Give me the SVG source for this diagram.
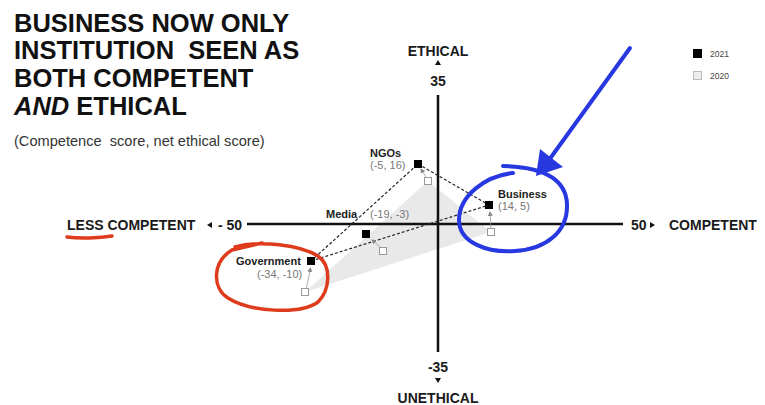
<svg xmlns="http://www.w3.org/2000/svg" width="765" height="405" viewBox="0 0 765 405">
<defs>
<style>
text{font-family:"Liberation Sans",Arial,sans-serif;}
.title{font-size:25.5px;font-weight:bold;fill:#111;}
.ax{font-size:14px;font-weight:bold;fill:#1a1a1a;}
.nl{font-size:11px;font-weight:bold;fill:#222;}
.nc{font-size:11px;fill:#777;}
.lg{font-size:8.5px;fill:#444;}
.axis{stroke:#111;stroke-width:2.5;fill:none;}
.dash{stroke:#222;stroke-width:1.2;stroke-dasharray:3 2;fill:none;}
.p21{fill:#000;}
.p20{fill:#fff;stroke:#999;stroke-width:1;}
.mv{stroke:#999;stroke-width:0.8;fill:none;marker-end:url(#ah);}
.blue{stroke:#2838e0;stroke-width:4;fill:none;stroke-linecap:round;}
.red{stroke:#dd3b1c;stroke-width:3.5;fill:none;stroke-linecap:round;}
</style>
<marker id="ah" markerWidth="5" markerHeight="5" refX="4" refY="2.5" orient="auto" markerUnits="userSpaceOnUse">
<path d="M0,0 L5,2.5 L0,5 Z" fill="#888"/>
</marker>
</defs>
<rect width="765" height="405" fill="#fff"/>

<g id="title">
<text class="title" x="14" y="32">BUSINESS NOW ONLY</text>
<text class="title" x="14" y="59" xml:space="preserve">INSTITUTION  SEEN AS</text>
<text class="title" x="14" y="87">BOTH COMPETENT</text>
<text class="title" x="14" y="115"><tspan font-style="italic">AND</tspan> ETHICAL</text>
<text x="14" y="146" font-size="14.6" fill="#333" xml:space="preserve">(Competence  score, net ethical score)</text>
</g>

<g id="legend">
<rect x="693" y="49" width="9" height="9" fill="#000"/>
<text class="lg" x="710" y="57">2021</text>
<rect x="693.5" y="71.5" width="8" height="8" fill="#eee" stroke="#bbb"/>
<text class="lg" x="710" y="79">2020</text>
</g>

<g id="shading">
<polygon points="305,292 428,181 491,232" fill="#e9e9e9"/>
</g>

<g id="axes">
<line class="axis" x1="247" y1="224" x2="623" y2="224"/>
<line class="axis" x1="438" y1="95" x2="438" y2="352"/>
<text class="ax" x="438" y="56" text-anchor="middle">ETHICAL</text>
<path d="M438,60 L441,65 L435,65 Z" fill="#111"/>
<text class="ax" x="438" y="86" text-anchor="middle" font-size="15">35</text>
<text class="ax" x="438" y="372" text-anchor="middle" font-size="15">-35</text>
<path d="M435,378 L441,378 L438,383 Z" fill="#111"/>
<text class="ax" x="438" y="403" text-anchor="middle">UNETHICAL</text>
<text class="ax" x="67" y="230" font-size="14.5">LESS COMPETENT</text>
<path d="M207,225 L212,222 L212,228 Z" fill="#111"/>
<text class="ax" x="218" y="230">- 50</text>
<text class="ax" x="631" y="230">50</text>
<path d="M655,225 L650,222 L650,228 Z" fill="#111"/>
<text class="ax" x="669" y="230">COMPETENT</text>
</g>

<g id="connectors">
<line class="dash" x1="311" y1="261" x2="418" y2="164"/>
<line class="dash" x1="418" y1="164" x2="489" y2="205"/>
<line class="dash" x1="311" y1="261" x2="489" y2="205"/>
<line class="mv" x1="491" y1="228" x2="490" y2="212"/>
<line class="mv" x1="426" y1="177" x2="421" y2="169"/>
<line class="mv" x1="380" y1="247" x2="372" y2="240"/>
<line class="mv" x1="306.5" y1="288" x2="310.5" y2="268"/>
</g>

<g id="ngos">
<rect class="p20" x="424.5" y="177.5" width="7" height="7"/>
<rect class="p21" x="414" y="160" width="8" height="8"/>
<text class="nl" x="370" y="157">NGOs</text>
<text class="nc" x="370" y="169">(-5, 16)</text>
</g>

<g id="business">
<rect class="p20" x="487.5" y="228.5" width="7" height="7"/>
<rect class="p21" x="485" y="201" width="8" height="8"/>
<text class="nl" x="498" y="198">Business</text>
<text class="nc" x="498" y="210">(14, 5)</text>
</g>

<g id="media">
<rect class="p20" x="379.5" y="247.5" width="7" height="7"/>
<rect class="p21" x="362" y="230" width="8" height="8"/>
<text class="nl" x="326" y="218">Media</text>
<text class="nc" x="370" y="218">(-19, -3)</text>
</g>

<g id="government">
<rect class="p20" x="301.5" y="288.5" width="7" height="7"/>
<rect class="p21" x="307" y="257" width="8" height="8"/>
<text class="nl" x="236" y="265">Government</text>
<text class="nc" x="257" y="278">(-34, -10)</text>
</g>

<g id="annotations">
<path class="blue" d="M513,173 C485,176 459,196 459,220 C459,243 488,253 515,251 C546,249 568,232 567,204 C566,180 545,167 503,166"/>
<line class="blue" x1="630" y1="48" x2="549" y2="160"/>
<polygon points="536,176 540,149 563,167" fill="#2838e0"/>
<path class="red" d="M235,247 C260,240 300,245 318,256 C332,266 330,290 318,302 C300,315 250,312 228,298 C212,288 212,262 232,250 L262,243"/>
<path class="red" d="M67,237 C80,239 100,238 112,236"/>
</g>
</svg>
